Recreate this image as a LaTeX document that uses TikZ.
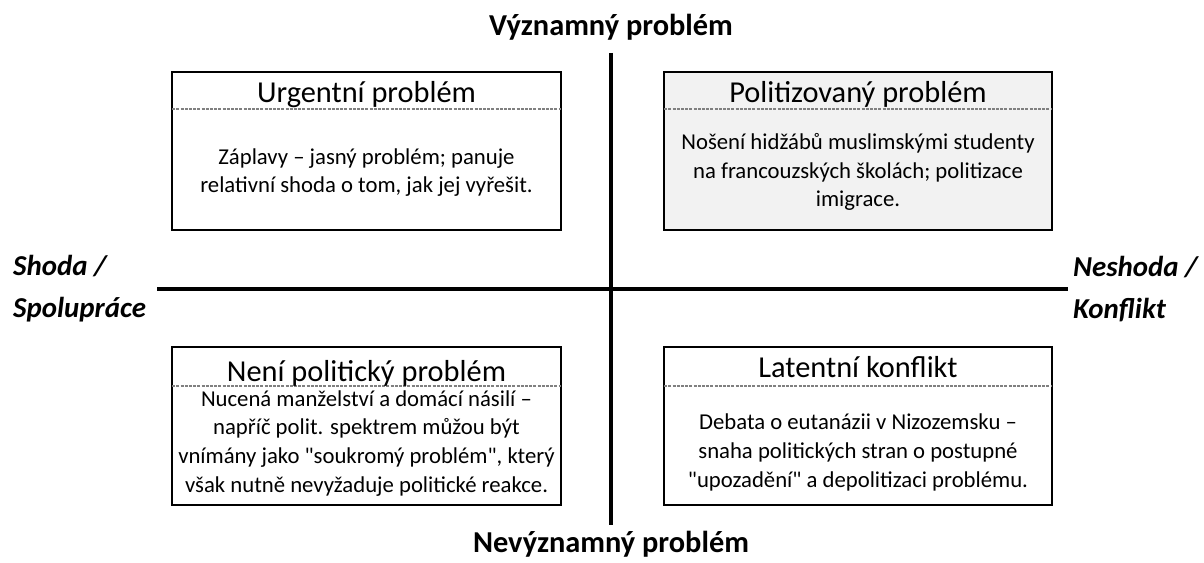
\documentclass[tikz,border=0pt]{standalone}
\usepackage{fontspec}
\setmainfont{Carlito}
\begin{document}
\begin{tikzpicture}[x=1bp,y=-1bp,
  box/.style={draw=black,line width=1.6bp,inner sep=0pt},
  shaded/.style={fill=black!5},
  sep/.style={draw=black!50,line width=1.5bp,dash pattern=on 3bp off 1.2bp},
  axis/.style={draw=black,line width=3.6bp},
  head/.style={anchor=base,inner sep=0pt,font=\fontsize{30.5}{36}\selectfont},
  body/.style={anchor=base,inner sep=0pt,align=center,font=\fontsize{22.8}{28.7}\selectfont},
  axlabel/.style={inner sep=0pt,font=\fontsize{30.5}{36}\selectfont\bfseries},
  sidelabel/.style={anchor=base west,inner sep=0pt,align=left,font=\fontsize{29}{42.5}\selectfont\bfseries\itshape}]
\useasboundingbox (0,0) rectangle (1204,563);
% axes
\coordinate (vtop) at (611,53);
\coordinate (vbot) at (611,525);
\coordinate (hleft) at (157,289);
\coordinate (hright) at (1068,289);
\draw[axis] (vtop) -- (vbot);
\draw[axis] (hleft) -- (hright);
% boxes
\node[box,minimum width=389bp,minimum height=158bp] (ul) at (366.5,151) {};
\node[box,shaded,minimum width=388bp,minimum height=158bp] (ur) at (858,151) {};
\node[box,minimum width=389bp,minimum height=158bp] (bl) at (366.5,426) {};
\node[box,minimum width=388bp,minimum height=158bp] (br) at (858,426) {};
\draw[sep] ([yshift=-38bp,xshift=1bp]ul.north west) -- ([yshift=-38bp,xshift=-1bp]ul.north east);
\draw[sep] ([yshift=-38bp,xshift=1bp]ur.north west) -- ([yshift=-38bp,xshift=-1bp]ur.north east);
\draw[sep] ([yshift=-40bp,xshift=1bp]bl.north west) -- ([yshift=-40bp,xshift=-1bp]bl.north east);
\draw[sep] ([yshift=-40bp,xshift=1bp]br.north west) -- ([yshift=-40bp,xshift=-1bp]br.north east);
% headers
\node[head] (ulh) at (366.5,103) {Urgentní problém};
\node[head] (urh) at (858,103) {Politizovaný problém};
\node[head] (blh) at (366.5,381) {Není politický problém};
\node[head] (brh) at (858,377) {Latentní konflikt};
% bodies (anchor = baseline of last line)
\node[body] (ulb) at (366.5,193) {Záplavy – jasný problém; panuje\\relativní shoda o tom, jak jej vyřešit.};
\node[body] (urb) at (858,207) {Nošení hidžábů muslimskými studenty\\na francouzských školách; politizace\\imigrace.};
\node[body] (blb) at (366.5,492) {Nucená manželství a domácí násilí –\\napříč polit. spektrem můžou být\\vnímány jako \textquotedbl soukromý problém\textquotedbl, který\\však nutně nevyžaduje politické reakce.};
\node[body] (brb) at (858,487) {Debata o eutanázii v Nizozemsku –\\snaha politických stran o postupné\\\textquotedbl upozadění\textquotedbl\ a depolitizaci problému.};
% axis labels
\node[axlabel,anchor=base] (top) at (611,36) {Významný problém};
\node[axlabel,anchor=base] (bot) at (611,552) {Nevýznamný problém};
\node[sidelabel] (left) at (13,318) {Shoda /\\Spolupráce};
\node[sidelabel] (right) at (1073,319) {Neshoda /\\Konflikt};
\end{tikzpicture}
\end{document}
